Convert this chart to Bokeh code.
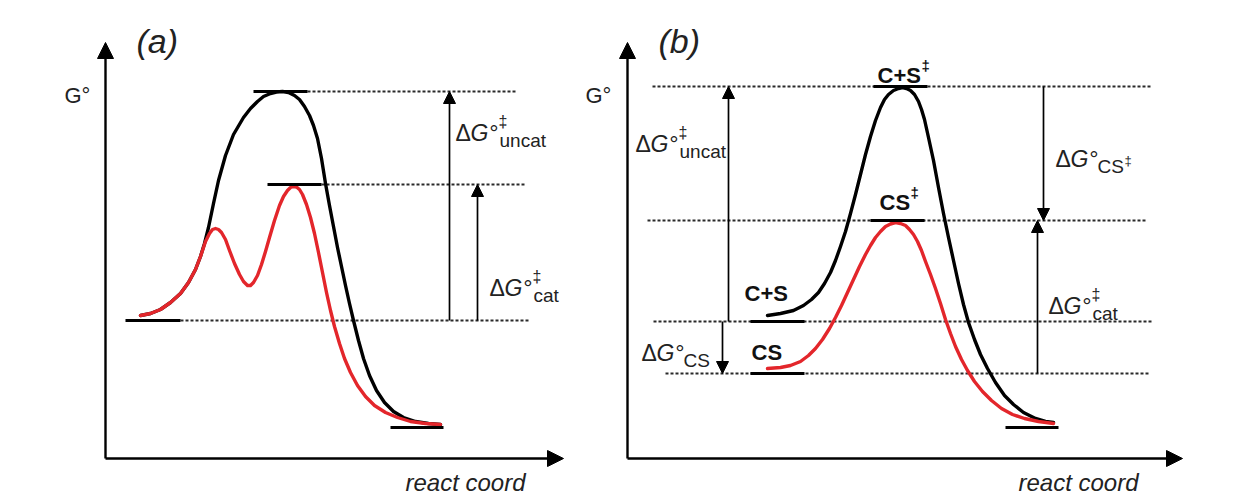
from bokeh.plotting import figure
from bokeh.models import Range1d, ColumnDataSource, Arrow, NormalHead
from bokeh.core.properties import value
from bokeh.embed import file_html
from bokeh.resources import INLINE

FONT = "Liberation Sans"
RED = "#e3262b"

# ---------------- data (diagram coordinates, y grows downward on the page) -------------
# panel (a) curves
a_black_x = [140, 150, 160, 170, 180, 188, 195, 200, 204, 208, 213, 218, 225, 233, 243, 250, 257, 263, 270, 276,
             282, 288, 294, 299, 304, 309, 313, 317, 321, 325, 329, 333, 337, 341, 345, 349, 353, 358, 363,
             369, 376, 384, 393, 403, 415, 428, 440]
a_black_y = [315, 313, 309, 302, 293, 282, 269, 256, 243, 227, 203, 180, 155, 134, 117, 108, 101, 96, 93, 91.5,
             91, 92, 95, 99, 106, 115, 125, 138, 158, 183, 205, 226, 247, 266, 285, 303, 320, 340, 358,
             375, 390, 402, 411, 417, 421, 423, 424]
a_red_x = [140, 150, 160, 170, 180, 188, 195, 200, 205, 209, 212, 215, 218, 221, 225, 229, 234, 239, 243,
           247, 250, 253, 257, 261, 265, 269, 274, 279, 283, 287, 290, 293, 296, 299, 302, 306, 310, 314,
           318, 322, 326, 330, 334, 339, 344, 350, 357, 365, 374, 385, 397, 410, 425, 440]
a_red_y = [315, 313, 309, 302, 293, 282, 269, 256, 241, 233, 229, 228, 229, 232, 239, 250, 263, 274, 281,
           285, 285, 282, 275, 264, 251, 237, 220, 205, 196, 190, 187, 186, 186.5, 189, 194, 204, 217, 233,
           252, 272, 292, 310, 326, 343, 358, 372, 385, 396, 405, 412, 417, 421, 423, 424]
# panel (b) curves
b_black_x = [767, 780, 793, 803, 811, 818, 824, 830, 835, 840, 845, 850, 855, 860, 865, 870, 875, 880, 884,
             888, 893, 898, 902, 906, 910, 914, 918, 921, 924, 928, 933, 938, 943, 948, 953, 958, 963, 968,
             974, 980, 987, 995, 1004, 1013, 1023, 1035, 1045, 1053]
b_black_y = [315, 313, 310, 305, 299, 292, 283, 272, 260, 246, 231, 213, 194, 174, 154, 136, 120, 107, 99,
             94, 90, 88, 87, 88, 90, 94, 101, 109, 119, 137, 160, 187, 213, 237, 260, 283, 304, 322,
             339, 354, 368, 382, 395, 404, 412, 418, 421, 422]
b_red_x = [767, 780, 790, 800, 808, 815, 822, 829, 835, 841, 847, 853, 859, 865, 870, 875, 880, 885, 890,
           895, 900, 905, 909, 913, 917, 921, 925, 930, 935, 940, 945, 950, 955, 961, 967, 974, 982, 991,
           1001, 1012, 1024, 1038, 1053]
b_red_y = [368, 367, 365, 361, 355, 348, 339, 328, 317, 305, 292, 279, 266, 254, 245, 237, 231, 226, 223.5,
           222, 223, 225, 229, 234, 241, 250, 261, 274, 288, 303, 319, 333, 346, 359, 370, 381, 391, 400,
           408, 414, 418, 421, 423]

# energy level bars
bar_x0 = [253, 267, 125, 390, 873, 870, 750, 750, 1005]
bar_x1 = [307, 321, 180, 443, 927, 924, 804, 804, 1058]
bar_y = [91, 184, 320, 427, 86, 220, 321, 373, 427]

# dotted guide lines
dot_x0 = [307, 321, 180, 652, 647, 653, 665]
dot_x1 = [515, 524, 529, 1152, 1146, 1152, 1148]
dot_y = [91, 184, 320, 86, 220, 321, 373]

# energy-difference arrows (start -> end)
arr_x = [449, 477, 728, 722, 1043, 1037]
arr_y0 = [320, 320, 321, 321, 86, 373]
arr_y1 = [91, 184, 86, 373, 220, 220]

# axes (origin, ends)
axis_x0 = [105, 627]
axis_y0 = [458, 458]
axis_xend = [563, 1182]
axis_ytop = [42, 42]

# ΔG labels: anchor (left, baseline), superscript, subscript, sub-superscript
dg_x = [455, 489, 635, 641, 1055, 1048]
dg_y = [137, 292, 148, 357, 163, 310]
dg_sup = ["‡", "‡", "‡", "", "", "‡"]
dg_sub = ["uncat", "cat", "uncat", "CS", "CS", "cat"]
dg_subsup = ["", "", "", "", "‡", ""]

# species labels (bold)
sp_x = [877, 879, 744, 751]
sp_y = [80, 207, 298, 357]
sp_text = ["C+S", "CS", "C+S", "CS"]
sp_sup = ["‡", "‡", "", ""]
sp_supdx = [44, 31, 0, 0]

# panel / axis labels
panel_x = [136, 658]
panel_y = [45, 45]
panel_text = ["(a)", "(b)"]
g_x = [64, 585]
g_y = [100, 100]
rc_x = [405, 1018]
rc_y = [487, 487]

# ---------------- figure ----------------
p = figure(width=1248, height=500, x_range=Range1d(0, 1248), y_range=Range1d(500, 0),
           output_backend="svg", toolbar_location=None, min_border=0,
           x_axis_type=None, y_axis_type=None)
p.grid.visible = False
p.outline_line_color = None
p.background_fill_color = "white"

# dotted guides
p.segment(x0=dot_x0, y0=dot_y, x1=dot_x1, y1=dot_y, line_dash="3 2", line_width=2, line_color="#2a2a2a")

# curves
for xs, ys, c in ((a_black_x, a_black_y, "black"), (b_black_x, b_black_y, "black"),
                  (a_red_x, a_red_y, RED), (b_red_x, b_red_y, RED)):
    p.line(xs, ys, line_width=3.4, line_color=c, line_join="round", line_cap="round")

# level bars
p.segment(x0=bar_x0, y0=bar_y, x1=bar_x1, y1=bar_y, line_width=3, line_color="black")

# difference arrows
arr_src = ColumnDataSource(dict(x0=arr_x, y0=arr_y0, x1=arr_x, y1=arr_y1))
p.add_layout(Arrow(end=NormalHead(size=12, fill_color="black", line_color="black", line_width=1),
                   x_start="x0", y_start="y0", x_end="x1", y_end="y1",
                   line_width=1.7, line_color="black", source=arr_src))

# main axes
ax_src_y = ColumnDataSource(dict(x0=axis_x0, y0=axis_y0, x1=axis_x0, y1=axis_ytop))
ax_src_x = ColumnDataSource(dict(x0=axis_x0, y0=axis_y0, x1=axis_xend, y1=axis_y0))
for src in (ax_src_y, ax_src_x):
    p.add_layout(Arrow(end=NormalHead(size=16, fill_color="black", line_color="black", line_width=1),
                       x_start="x0", y_start="y0", x_end="x1", y_end="y1",
                       line_width=2.4, line_color="black", source=src))

TXT = "#222222"
SHIFT = -5  # raise text slightly so glyphs sit where they do in the figure

def txt(x, y, s, size, style="normal", dx=0, dy=0, color=TXT):
    p.text(x=x, y=y, text=s, text_font=value(FONT), text_font_size=size,
           text_font_style=style, text_color=color, text_align="left",
           text_baseline="alphabetic", x_offset=dx, y_offset=dy + SHIFT)

# panel labels
txt(panel_x, panel_y, panel_text, "34px", "italic")
txt(g_x, g_y, ["G°", "G°"], "22px")
txt(rc_x, rc_y, ["react coord", "react coord"], "24px", "italic")

# ΔG labels
for x, y, sup, sub, ssup in zip(dg_x, dg_y, dg_sup, dg_sub, dg_subsup):
    txt([x], [y], ["Δ"], "23px")
    txt([x], [y], ["G°"], "23px", "italic", dx=15)
    if sup:
        txt([x], [y], [sup], "16px", dx=43, dy=-11)
    txt([x], [y], [sub], "19px", dx=44 if sup else 42, dy=8)
    if ssup:
        txt([x], [y], [ssup], "13px", dx=69, dy=2)

# species labels
for x, y, t, sup, sdx in zip(sp_x, sp_y, sp_text, sp_sup, sp_supdx):
    txt([x], [y], [t], "22px", "bold", color="#111111")
    if sup:
        txt([x], [y], [sup], "15px", "bold", dx=sdx, dy=-10, color="#111111")

open("out.html", "w").write(file_html(p, INLINE))
